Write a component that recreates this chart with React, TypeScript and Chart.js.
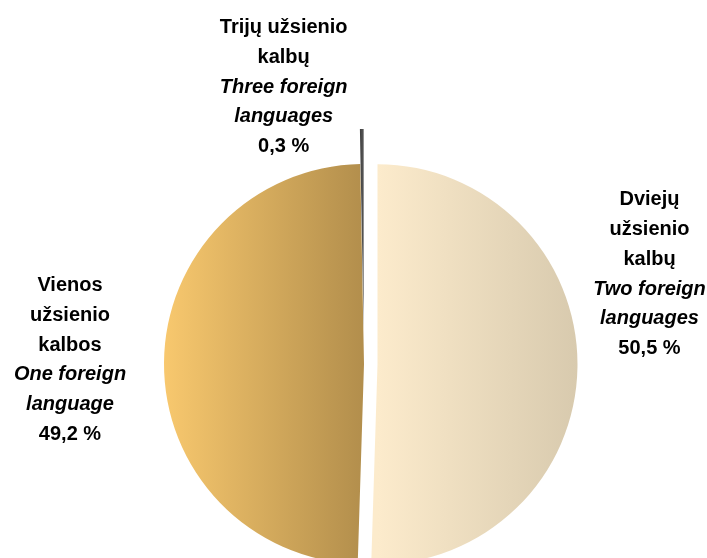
import React, { useEffect, useRef } from "react";
import { Chart, registerables } from "chart.js";

Chart.register(...registerables);

// ---- data ----
const categoriesLt: string[][] = [
  ["Dviejų", "užsienio", "kalbų"],
  ["Vienos", "užsienio", "kalbos"],
  ["Trijų užsienio", "kalbų"],
];
const categoriesEn: string[][] = [
  ["Two foreign", "languages"],
  ["One foreign", "language"],
  ["Three foreign", "languages"],
];
const shares: number[] = [50.5, 49.2, 0.3];

// ---- styling / layout ----
const RADIUS = 200;
const LINE = 29.7;
const FONT_SIZE = 20;
const explode = [13.5, 0, 35];
const gradientStops = [
  ["#FCEBCC", "#D8CAAE"],
  ["#F8C86E", "#B28E4C"],
  ["#3C3C3C", "#5A5A5A"],
];
const labelOffsets = [
  { dx: 272, dy: -90 },
  { dx: -294, dy: -4 },
  { dx: -80, dy: -242 },
];

const fmt = (v: number) => v.toFixed(1).replace(".", ",") + " %";

const explodePlugin = {
  id: "explodeAndLabels",
  beforeDatasetDraw(chart: any, args: any) {
    const ctx = chart.ctx;
    args.meta.data.forEach((arc: any, i: number) => {
      const { startAngle, endAngle } = arc.getProps(["startAngle", "endAngle"], true);
      const mid = (startAngle + endAngle) / 2;
      ctx.save();
      ctx.translate(Math.cos(mid) * explode[i], Math.sin(mid) * explode[i]);
      arc.draw(ctx, chart.chartArea);
      ctx.restore();
    });
    return false;
  },
  afterDatasetsDraw(chart: any) {
    const ctx = chart.ctx;
    const meta = chart.getDatasetMeta(0);
    meta.data.forEach((arc: any, i: number) => {
      const { x, y, startAngle, endAngle } = arc.getProps(["x", "y", "startAngle", "endAngle"], true);
      const mid = (startAngle + endAngle) / 2;
      const cx = x + Math.cos(mid) * explode[i] + labelOffsets[i].dx;
      const cy = y + Math.sin(mid) * explode[i] + labelOffsets[i].dy;
      const lines: { t: string; it: boolean }[] = [
        ...categoriesLt[i].map((t) => ({ t, it: false })),
        ...categoriesEn[i].map((t) => ({ t, it: true })),
        { t: fmt(shares[i]), it: false },
      ];
      ctx.save();
      ctx.fillStyle = "#000";
      ctx.textAlign = "center";
      ctx.textBaseline = "middle";
      lines.forEach((ln, k) => {
        ctx.font = `${ln.it ? "italic " : ""}bold ${FONT_SIZE}px "Liberation Sans", Arial, sans-serif`;
        ctx.fillText(ln.t, cx, cy + (k - (lines.length - 1) / 2) * LINE);
      });
      ctx.restore();
    });
  },
};

export default function App() {
  const ref = useRef<HTMLCanvasElement | null>(null);
  useEffect(() => {
    if (!ref.current) return;
    const chart = new Chart(ref.current, {
      type: "pie",
      data: {
        labels: categoriesLt.map((l) => l.join(" ")),
        datasets: [
          {
            data: shares,
            borderWidth: 0,
            radius: RADIUS,
            backgroundColor: (c: any) => {
              const i = c.dataIndex ?? 0;
              const chart = c.chart;
              const area = chart.chartArea;
              if (!area || c.type !== "data") return gradientStops[i][0];
              const cx = (area.left + area.right) / 2;
              let x0 = cx;
              let x1 = cx + RADIUS;
              if (i === 1) {
                x0 = cx - RADIUS;
                x1 = cx;
              } else if (i === 2) {
                x0 = cx - 4;
                x1 = cx;
              }
              const g = chart.ctx.createLinearGradient(x0, 0, x1, 0);
              g.addColorStop(0, gradientStops[i][0]);
              g.addColorStop(1, gradientStops[i][1]);
              return g;
            },
          } as any,
        ],
      },
      options: {
        responsive: false,
        animation: false,
        layout: { padding: 0 },
        plugins: {
          legend: { display: false },
          tooltip: { enabled: false },
        },
      },
      plugins: [explodePlugin as any],
    });
    return () => chart.destroy();
  }, []);
  return (
    <div
      style={{
        position: "absolute",
        left: 0,
        top: 0,
        width: 707,
        height: 558,
        overflow: "hidden",
        background: "#fff",
      }}
    >
      <canvas ref={ref} width={728} height={728} style={{ width: 728, height: 728, display: "block" }} />
    </div>
  );
}
